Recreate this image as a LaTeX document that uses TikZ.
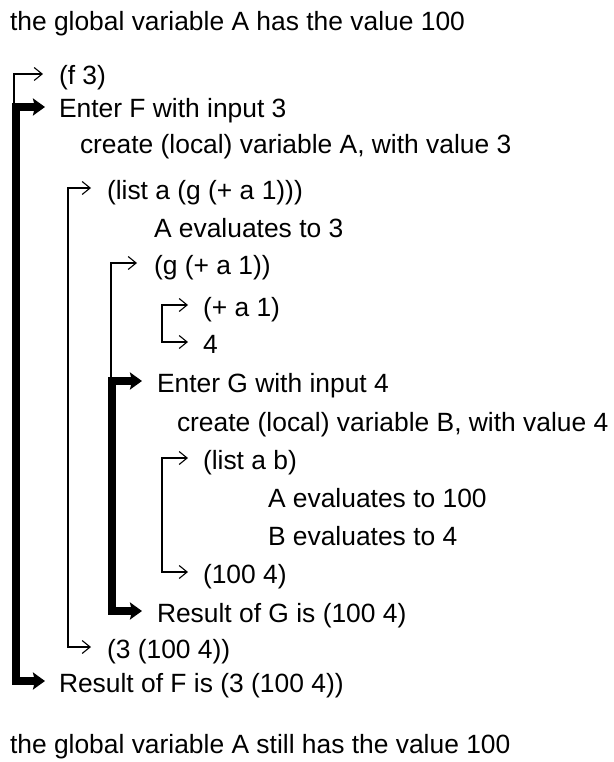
\documentclass[tikz,border=0pt]{standalone}
\usepackage{fontspec}
\setmainfont{Liberation Sans}
\usetikzlibrary{arrows.meta}
\begin{document}
\begin{tikzpicture}[x=1pt,y=-1pt,
  txt/.style={anchor=west,inner sep=0pt,outer sep=0pt,text height=22pt,text depth=0pt,font=\fontsize{26.4}{30}\selectfont},
  thinline/.style={line width=1.1pt,line join=miter},
  thinstart/.style={thinline,{Straight Barb[length=8pt,width=13pt]}-},
  thinboth/.style={thinline,{Straight Barb[length=8pt,width=13pt]}-{Straight Barb[length=8pt,width=13pt]}},
  thickline/.style={line width=8pt,line join=miter,line cap=butt,{Stealth[length=12pt,width=17pt,inset=2pt]}-{Stealth[length=12pt,width=17pt,inset=2pt]}}
]
\fill[white] (0,0) rectangle (613,762);
\useasboundingbox (0,0) rectangle (613,762);

\node[txt] (title) at (10,20) {the global variable A has the value 100};
\node[txt] (fthree) at (59,74) {(f 3)};
\node[txt] (enterF) at (59,107) {Enter F with input 3};
\node[txt] (createA) at (80,143) {create (local) variable A, with value 3};
\node[txt] (listag) at (107,188) {(list a (g (+ a 1)))};
\node[txt] (aevalthree) at (154,226) {A evaluates to 3};
\node[txt] (gexp) at (154,263) {(g (+ a 1))};
\node[txt] (plus) at (203,305) {(+ a 1)};
\node[txt] (four) at (203,342) {4};
\node[txt] (enterG) at (157,381) {Enter G with input 4};
\node[txt] (createB) at (177,420) {create (local) variable B, with value 4};
\node[txt] (listab) at (203,458) {(list a b)};
\node[txt] (aevalhund) at (268,496) {A evaluates to 100};
\node[txt] (bevalfour) at (268,534) {B evaluates to 4};
\node[txt] (reshund) at (203,572) {(100 4)};
\node[txt] (resG) at (157,611) {Result of G is (100 4)};
\node[txt] (resthree) at (107,647) {(3 (100 4))};
\node[txt] (resF) at (59,681) {Result of F is (3 (100 4))};
\node[txt] (foot) at (10,742) {the global variable A still has the value 100};

\coordinate (fJ) at (14,112);
\coordinate (gJ) at (111,386);
\coordinate (bxone) at (68,0);
\coordinate (bxthree) at (162,0);
\coordinate (fx) at (15.5,0);
\coordinate (gx) at (112,0);

% thin connectors
\draw[thinstart] ([xshift=-16pt]fthree.west) -- (fthree.west -| fJ) -- (fJ);
\draw[thinboth] ([xshift=-16pt]listag.west) -- (listag.west -| bxone) -- (resthree.west -| bxone) -- ([xshift=-16pt]resthree.west);
\draw[thinstart] ([xshift=-17pt]gexp.west) -- (gexp.west -| gJ) -- (gJ);
\draw[thinboth] ([xshift=-15pt]plus.west) -- (plus.west -| bxthree) -- (four.west -| bxthree) -- ([xshift=-15pt]four.west);
\draw[thinboth] ([xshift=-15pt]listab.west) -- (listab.west -| bxthree) -- (reshund.west -| bxthree) -- ([xshift=-15pt]reshund.west);

% thick connectors
\draw[thickline] ([xshift=-14pt]enterF.west) -- (enterF.west -| fx) -- (resF.west -| fx) -- ([xshift=-14pt]resF.west);
\draw[thickline] ([xshift=-15pt]enterG.west) -- (enterG.west -| gx) -- (resG.west -| gx) -- ([xshift=-15pt]resG.west);
\end{tikzpicture}
\end{document}
